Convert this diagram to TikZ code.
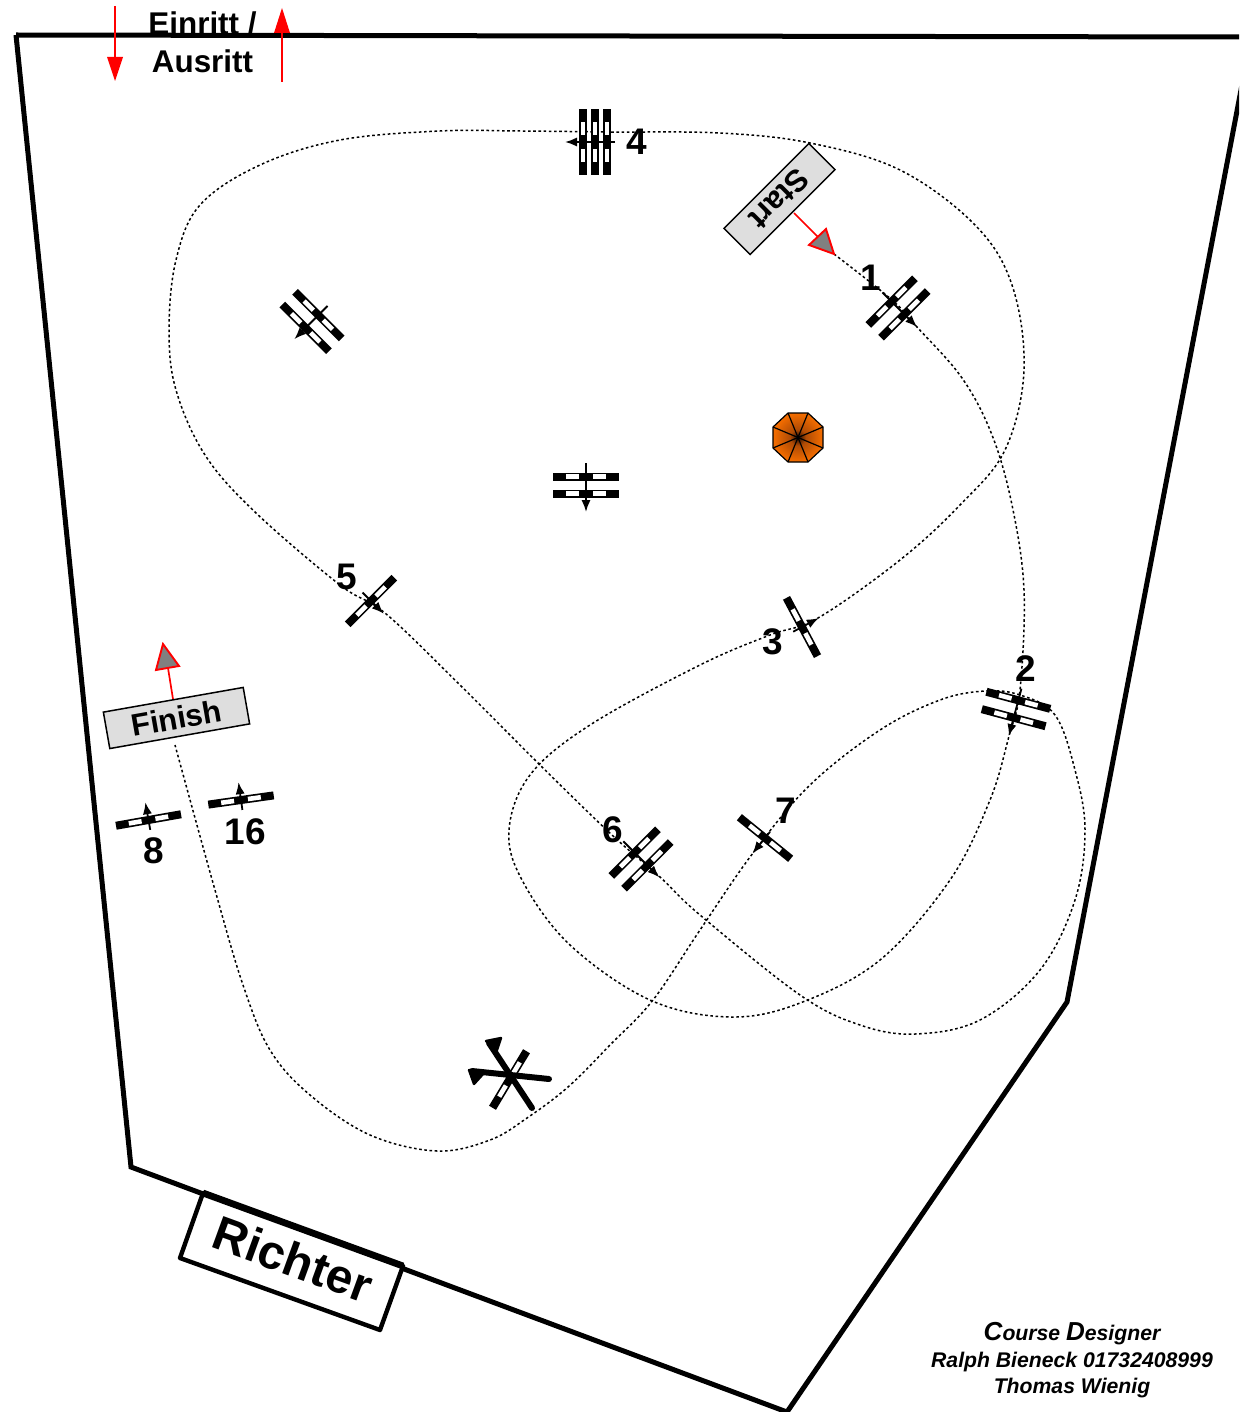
\documentclass[tikz,border=0pt]{standalone}
\usepackage{fontspec}
\setmainfont{Liberation Sans}
\usetikzlibrary{arrows.meta}
\definecolor{umbdark}{RGB}{35,10,0}
\definecolor{umbmid}{RGB}{175,75,5}
\definecolor{umbout}{RGB}{242,108,0}
\pgfdeclareradialshading{umbshade}{\pgfpoint{0bp}{0bp}}{color(0bp)=(umbdark); color(8bp)=(umbmid); color(24bp)=(umbout); color(50bp)=(umbout)}
\newcommand{\rail}[1]{%
  \fill[black] (-33,#1-4) rectangle (33,#1+4);
  \fill[white] (-20,#1-2.3) rectangle (-7,#1+2.3);
  \fill[white] (7,#1-2.3) rectangle (20,#1+2.3);
}
\newcommand{\fence}[5]{%
  \begin{scope}[shift={(#1,#2)},rotate=#3]
  #4
  \draw[arw] (0,#5);
  \end{scope}
}
\tikzset{
  x=0.5pt,y=-0.5pt,
  arw/.style={line width=0.9pt,-{Latex[length=6pt,width=4.6pt]}},
  course/.style={line width=0.75pt,dash pattern=on 1.3pt off 1.3pt},
  border/.style={line width=2.5pt,line join=miter},
  signbox/.style={draw=black,line width=0.75pt,fill=black!13,minimum height=18.5pt,font=\bfseries\fontsize{15.5}{15.5}\selectfont,inner sep=0pt},
  redline/.style={red,line width=0.85pt},
  flagtri/.style={draw=red,fill=black!50,line width=0.95pt,line join=miter},
  numlabel/.style={font=\bfseries\fontsize{18.5}{18.5}\selectfont,inner sep=0pt},
  headlabel/.style={font=\bfseries\fontsize{15.7}{15.7}\selectfont,inner sep=0pt,anchor=base},
  credit/.style={font=\bfseries\itshape\fontsize{10.6}{10.6}\selectfont,inner sep=0pt,anchor=base},
}
\begin{document}
\begin{tikzpicture}
\useasboundingbox (0,0) rectangle (1239,1412);
\clip (0,0) rectangle (1239,1412);
\fill[white] (0,0) rectangle (1239,1412);

% course
\draw[course] plot[smooth,tension=0.6] coordinates {
 (834,254) (892,300) (917,327) (962,378) (992,435) (1012,505) (1024,590) (1020,690) (1009,736)
 (990,800) (950,880) (880,960) (800,1003) (730,1017) (650,1000) (570,945) (522,880) (509,830) (530,775)
 (590,725) (700,665) (770,635) (818,618) (900,560) (960,505) (1005,450) (1024,370) (1012,285) (975,225) (900,170)
 (810,143) (720,133) (610,132) (520,131) (440,131) (340,140) (260,165) (200,205) (176,260) (169,330) (176,390) (205,455) (255,512) (340,585)
 (385,613) (460,685) (540,765) (612,835) (660,877) (700,915) (800,995) (860,1025) (915,1034) (980,1020) (1040,970) (1075,900) (1085,830) (1075,770) (1055,715)
 (1020,695) (985,691) (940,700) (880,730) (810,785) (753,853) (700,930) (653,1000) (610,1045) (568,1087) (527,1118) (490,1140) (437,1151) (370,1135) (310,1095) (270,1050) (243,985)
 (215,890) (175,745)};

% borders
\draw[border] (1249,48) -- (1067,1002) -- (787,1412) -- (131,1167) -- (16,35);

% judge
\draw[border,fill=white,line join=round,line width=2.2pt] (203,1193) -- (403,1266) -- (380,1330) -- (180,1258) -- cycle;
\draw[line width=3.4pt] (203,1193) -- (403,1266);
\node[font=\bfseries\fontsize{24}{24}\selectfont,rotate=-20,inner sep=0pt] (richter) at (293,1259) {Richter};

% entry labels
\node[headlabel] (einritt) at (202.5,35) {Einritt /};
\node[headlabel] (ausritt) at (202.5,73) {Ausritt};
\draw[border] (16,35) -- (1239,37);
\draw[redline] (115,6) -- (115,58);
\fill[red] (107,57) -- (123,57) -- (115,81) -- cycle;
\draw[redline] (282,82) -- (282,33);
\fill[red] (274,33) -- (290,33) -- (282,8) -- cycle;

% start / finish
\draw[redline] (794,213) -- (818,237);
\draw[flagtri] (826,229) -- (809,245) -- (834,254) -- cycle;
\node[signbox,minimum width=60pt,rotate=225] (start) at (779.5,199) {Start};
\draw[redline] (173,699) -- (168,668);
\draw[flagtri] (163,644) -- (156,670) -- (179,666) -- cycle;
\node[signbox,minimum width=71pt,rotate=10] (finish) at (176.5,718) {Finish};

% fences
\fence{312}{321.5}{-45}{\rail{-9}\rail{9}}{-22) -- (0,25}
\fence{586}{485}{0}{\rail{-8.5}\rail{8.5}}{-22) -- (0,27}
\fence{898}{308}{45}{\rail{-9}\rail{9}}{-22) -- (0,27}
\fence{595}{142}{-90}{\rail{-12}\rail{0}\rail{12}}{-20) -- (0,30}
\fence{802}{627}{118}{\rail{0}}{-10) -- (0,19}
\fence{371}{601}{45}{\rail{0}}{-12) -- (0,18}
\fence{765}{838}{-39}{\rail{0}}{-8) -- (0,20}
\fence{148.5}{820}{190}{\rail{0}}{-10) -- (0,18}
\fence{241}{800}{188}{\rail{0}}{-10) -- (0,18}
\fence{1016}{709}{-15}{\rail{-9}\rail{9}}{-21) -- (0,28}
\fence{641}{859}{45}{\rail{-9}\rail{9}}{-25) -- (0,26}

% joker
\begin{scope}[shift={(509.5,1079.5)},rotate=59]
\rail{0}
\end{scope}
\draw[line width=3pt,line cap=round] (549,1079) -- (472,1071);
\fill[line join=round,draw,line width=1.2pt] (469,1070) -- (474,1084) -- (484,1073) -- cycle;
\draw[line width=3pt,line cap=round] (532,1108) -- (489,1043);
\fill[line join=round,draw,line width=1.2pt] (486,1041) -- (501,1038) -- (497,1050) -- cycle;

% umbrella
\begin{scope}
\path[clip] (788,413) -- (808,413) -- (823,427) -- (823,448) -- (808,462) -- (788,462) -- (773,448) -- (773,427) -- cycle;
\shade[shading=umbshade] (773,412.5) rectangle (823,462.5);
\end{scope}
\draw[line width=0.6pt,line join=round] (788,413) -- (808,413) -- (823,427) -- (823,448) -- (808,462) -- (788,462) -- (773,448) -- (773,427) -- cycle;
\foreach \vx/\vy in {788/413,808/413,823/427,823/448,808/462,788/462,773/448,773/427}
  \draw[line width=0.6pt] (798,437.5) -- (\vx,\vy);

% numbers
\node[numlabel] (n4) at (636.5,142) {4};
\node[numlabel] (n1) at (871,278) {1};
\node[numlabel] (n2) at (1026,669) {2};
\node[numlabel] (n3) at (772.5,642) {3};
\node[numlabel] (n5) at (347,577) {5};
\node[numlabel] (n6) at (612.5,830) {6};
\node[numlabel] (n7) at (786,811) {7};
\node[numlabel] (n8) at (154,851) {8};
\node[numlabel] (n16) at (245.5,832) {16};

% credits
\node[credit] (c1) at (1072,1340) {{\fontsize{13}{13}\selectfont C}ourse {\fontsize{13}{13}\selectfont D}esigner};
\node[credit] (c2) at (1072,1367) {Ralph Bieneck 01732408999};
\node[credit] (c3) at (1072,1393) {Thomas Wienig};
\end{tikzpicture}
\end{document}
